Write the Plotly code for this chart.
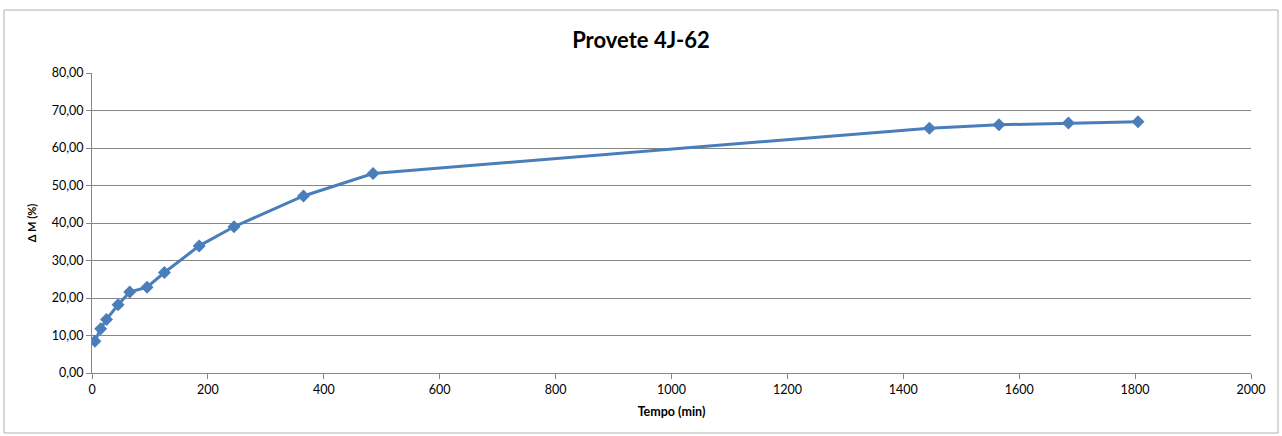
import plotly.graph_objects as go

tempo = [5, 15, 25, 45, 65, 95, 125, 185, 245, 365, 485, 1445, 1565, 1685, 1805]
delta_m = [8.5, 11.8, 14.3, 18.2, 21.6, 22.9, 26.8, 33.9, 39.0, 47.2, 53.2, 65.3, 66.2, 66.7, 67.0]

title_text = "Provete 4J-62"
x_title = "Tempo (min)"
y_title = "Δ M (%)"

W, H = 1282, 436
ml, mr, mt, mb = 92, 31, 73, 63
pw, ph = W - ml - mr, H - mt - mb

fig = go.Figure()
fig.add_trace(go.Scatter(
    x=tempo, y=delta_m, mode="lines+markers",
    line=dict(color="#4a7ebb", width=3),
    marker=dict(symbol="diamond", size=10, color="#4a7ebb"),
    showlegend=False,
))

font = "Lato, Carlito, Calibri, sans-serif"
fig.update_layout(
    width=W, height=H,
    margin=dict(l=ml, r=mr, t=mt, b=mb),
    paper_bgcolor="white", plot_bgcolor="white",
    separators=",.",
    font=dict(family=font, size=12, color="black"),
    title=dict(text="<b>" + title_text + "</b>", x=0.5, xanchor="center",
               y=1 - 40 / H, yanchor="middle", font=dict(size=22, family=font)),
    xaxis=dict(range=[0, 2000], dtick=200, showgrid=False, zeroline=False,
               showline=True, linecolor="#868686", linewidth=1,
               ticks="outside", ticklen=5, tickcolor="#868686",
               tickfont=dict(size=12.5),
               title=dict(text="<b>" + x_title + "</b>", font=dict(size=12.5), standoff=11)),
    yaxis=dict(range=[0, 80], dtick=10, tickformat=".2f", showgrid=True,
               gridcolor="#868686", gridwidth=1, zeroline=False,
               showline=True, linecolor="#868686", linewidth=1,
               ticks="outside", ticklen=5, tickcolor="#868686",
               tickfont=dict(size=12.5),
               title=dict(text="<b>" + y_title + "</b>", font=dict(size=11), standoff=12)),
)

fig.add_shape(type="rect", xref="paper", yref="paper",
              x0=(4 - ml) / pw, x1=(1278 - ml) / pw,
              y0=-(433 - (mt + ph)) / ph, y1=1 + (mt - 10) / ph,
              line=dict(color="#b0b0b0", width=1), layer="below")

fig.write_html("out.html", config={"displayModeBar": False},
               post_script="document.body.style.margin='0';document.body.style.overflow='hidden';")
